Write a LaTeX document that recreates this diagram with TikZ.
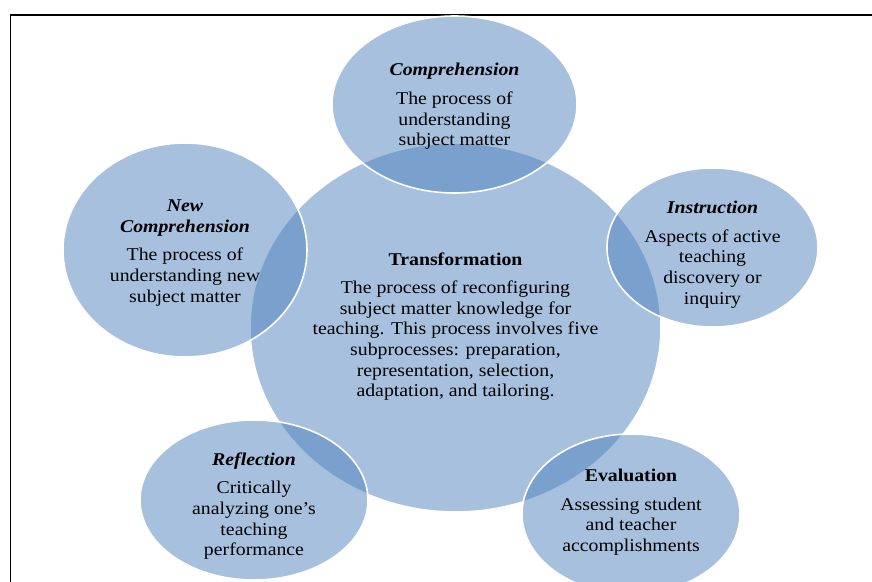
\documentclass[tikz,border=0pt]{standalone}
\usepackage{fontspec}
\setmainfont{Liberation Serif}[FakeStretch=1.1]
\usepackage{tikz}
\usetikzlibrary{shapes.geometric}
\usepackage{xcolor}
\definecolor{cycleblue}{HTML}{4F81BD}
\newcommand{\phasehead}[1]{{\bfseries #1}\\[8pt]}

\begin{document}
\begin{tikzpicture}[x=1pt,y=-1pt,
  phase/.style={ellipse, draw=white, line width=1.6pt, fill=cycleblue,
    fill opacity=0.5, inner sep=0pt},
  phasetext/.style={inner sep=0pt, align=center,
    font=\fontsize{18}{20.6}\selectfont}]
\useasboundingbox (0,0) rectangle (872,581);
%frame
\draw[line width=1.6pt] (10.3,585) -- (10.3,15.2) -- (876,15.2);
%centre
\node[phase, minimum width=411, minimum height=369] (transf) at (455.5,327.5) {};
\node[phasetext] (transf-txt) at ([yshift=1pt]transf.center)
  {\phasehead{Transformation}The process of reconfiguring\\ subject matter knowledge for\\
   teaching. This process involves five\\ subprocesses: preparation,\\
   representation, selection,\\ adaptation, and tailoring.};
%around
\node[phase, minimum width=245, minimum height=177] (compr) at (454.5,104.5) {};
\node[phasetext] (compr-txt) at ([yshift=-2pt]compr.center)
  {\phasehead{\itshape Comprehension}The process of\\ understanding\\ subject matter};
\node[phase, minimum width=211, minimum height=159] (instr) at (712.5,247.5) {};
\node[phasetext] (instr-txt) at ([yshift=-7pt]instr.center)
  {\phasehead{\itshape Instruction}Aspects of active\\ teaching\\ discovery or\\ inquiry};
\node[phase, minimum width=218, minimum height=160] (eval) at (631,514) {};
\node[phasetext] (eval-txt) at ([yshift=2pt]eval.center)
  {\phasehead{Evaluation}Assessing student\\ and teacher\\ accomplishments};
\node[phase, minimum width=228, minimum height=160] (refl) at (254,500) {};
\node[phasetext] (refl-txt) at ([yshift=-6pt]refl.center)
  {\phasehead{\itshape Reflection}Critically\\ analyzing one's\\ teaching\\ performance};
\node[phase, minimum width=244, minimum height=214] (newcompr) at (185,250) {};
\node[phasetext] (newcompr-txt) at ([yshift=-3pt]newcompr.center)
  {{\bfseries\itshape New}\\ \phasehead{\itshape Comprehension}The process of\\
   understanding new\\ subject matter};
\end{tikzpicture}
\end{document}
